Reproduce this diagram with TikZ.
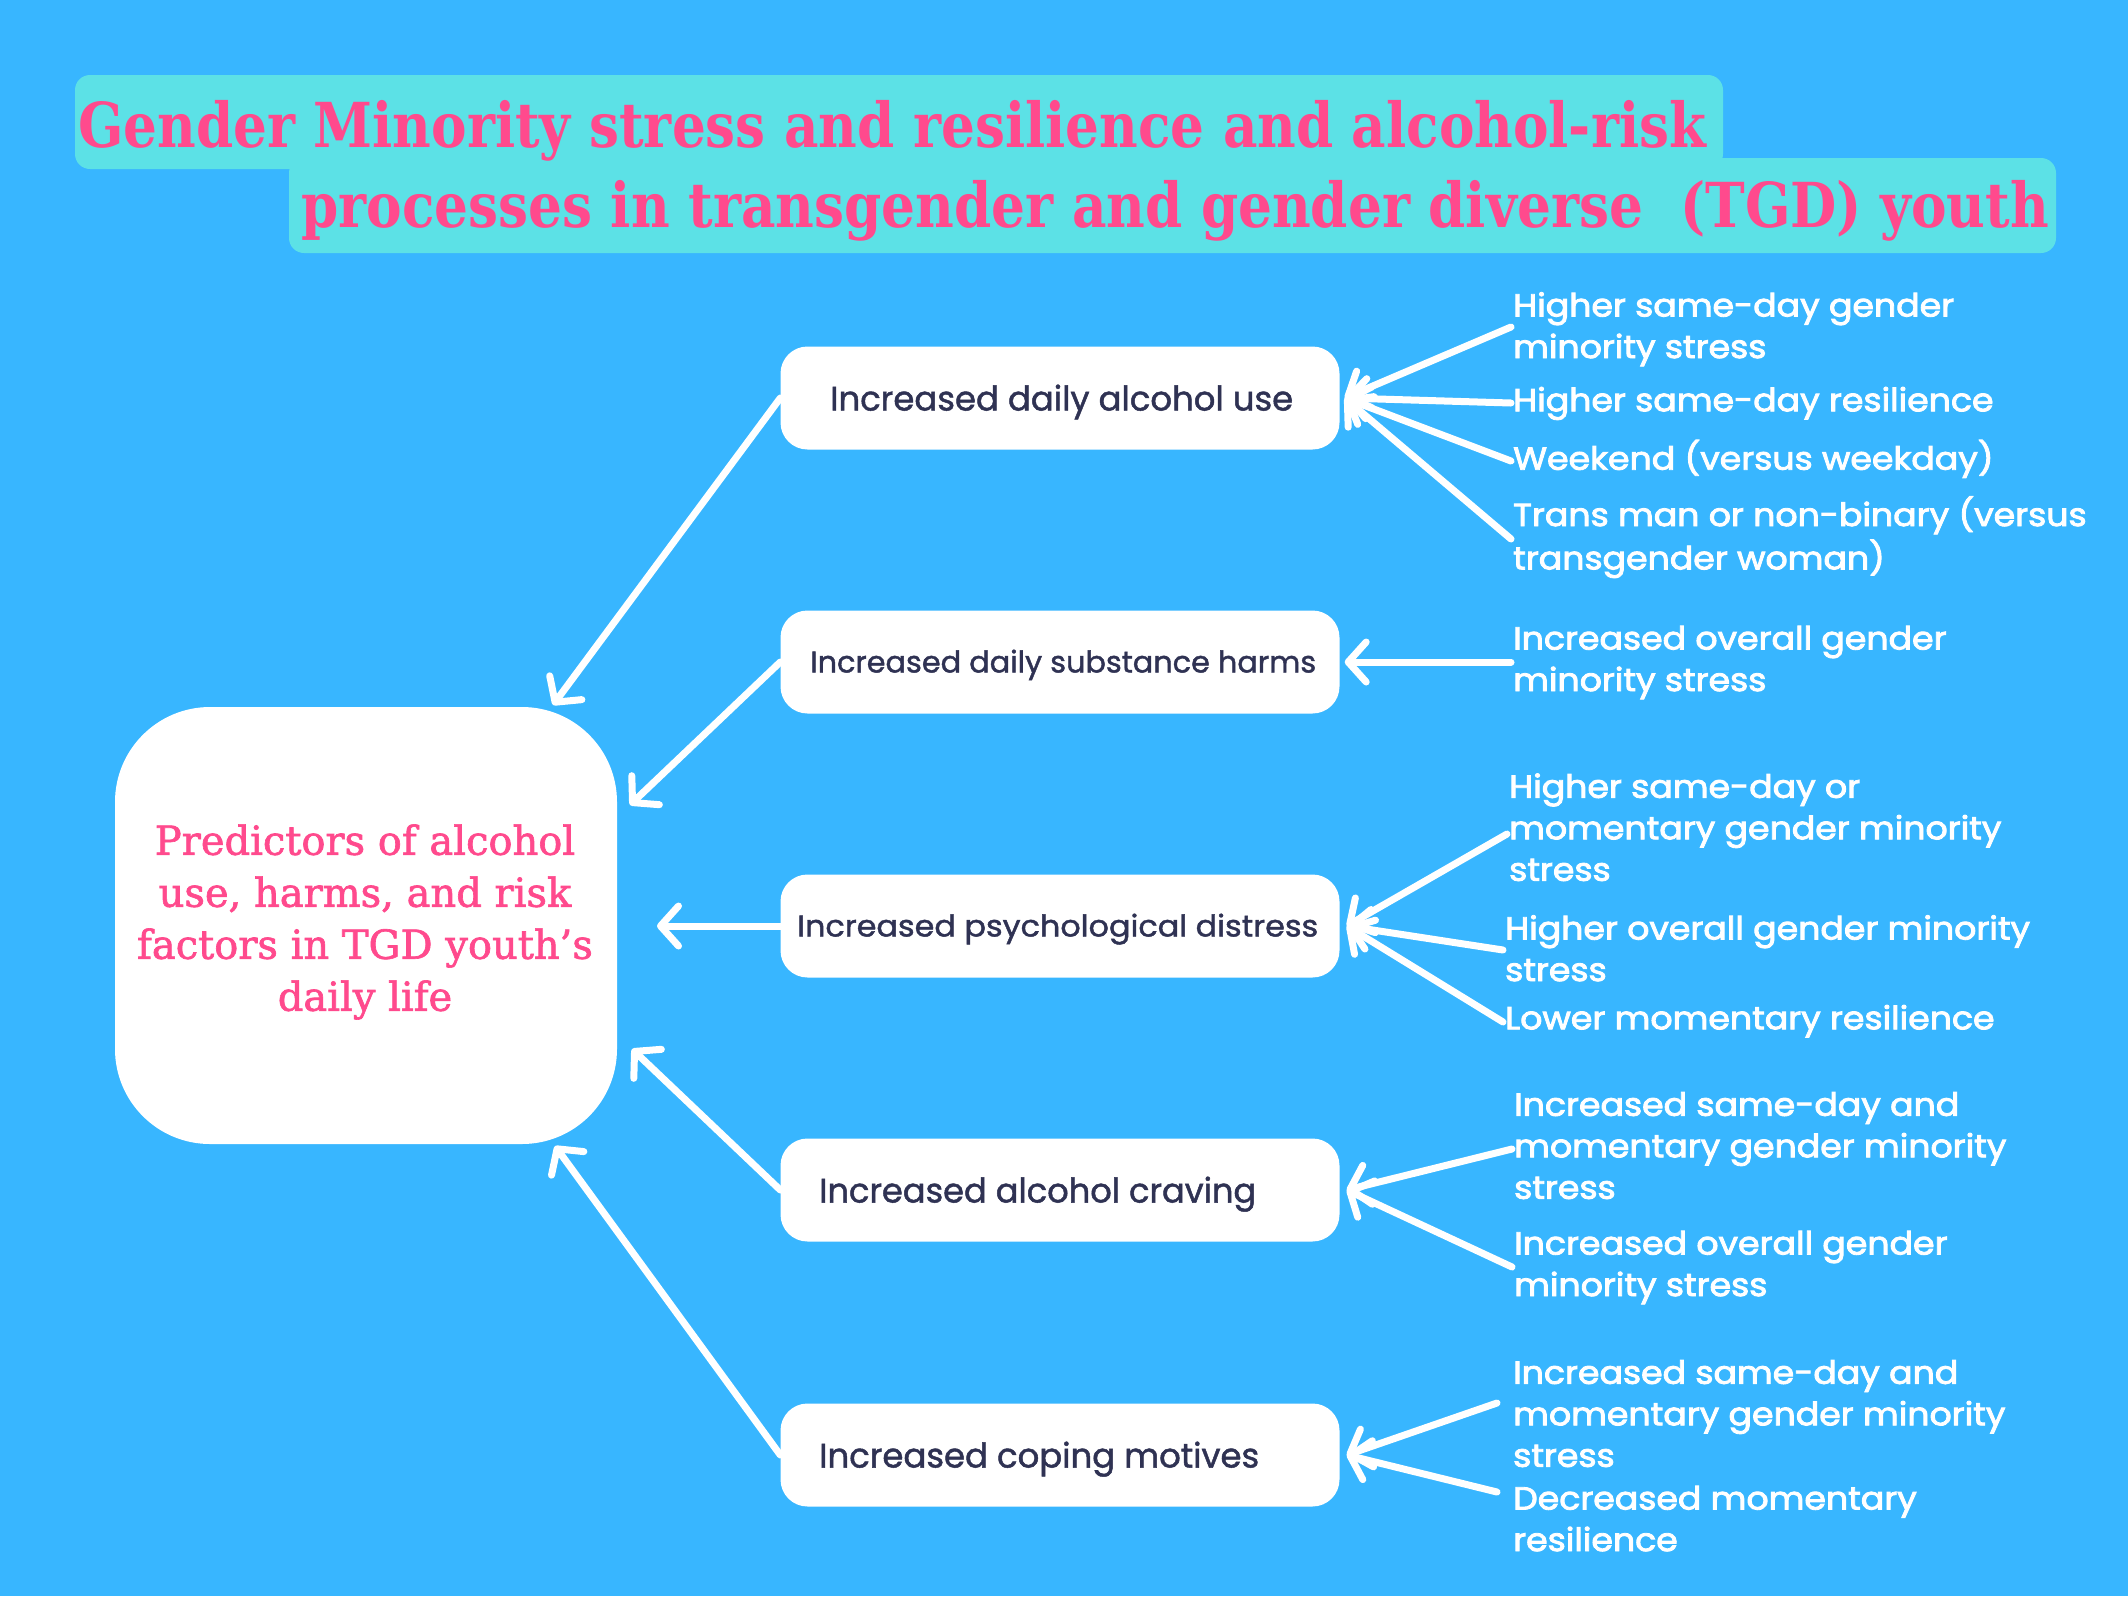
\documentclass[tikz,border=0pt]{standalone}
\usepackage{fontspec}
\usepackage{graphicx}
\setmainfont{Poppins}
\newfontfamily\serifT{DejaVu Serif}
\newfontfamily\serifC{DejaVu Serif}[FakeBold=1.6]
\newfontfamily\popB{Poppins}[FakeBold=1.4]
\newfontfamily\popW{Poppins}[FakeBold=2.6]
\usetikzlibrary{arrows.meta,calc}
\definecolor{bgblue}{HTML}{38B6FF}
\definecolor{tbox}{HTML}{5CE1E6}
\definecolor{pinkT}{HTML}{FF4A8D}
\definecolor{navy}{HTML}{2F3253}
\newcommand{\fitw}[2]{\resizebox{#1}{\height}{#2}}
\newcommand{\rl}[1]{\strut\scalebox{1.085}[1]{#1}}
\tikzset{
  sbox/.style={fill=white, rounded corners=27pt, minimum width=559pt, minimum height=103pt, inner sep=0pt},
  boxtxt/.style={text=navy, anchor=base west, inner sep=0pt},
  bigfont/.style={font=\popB\fontsize{34}{40}\selectfont},
  smallfont/.style={font=\popB\fontsize{30}{36}\selectfont},
  rlab/.style={font=\popW\fontsize{32}{41.5}\selectfont, text=white, align=left, anchor=west, inner sep=0pt},
  arr/.style={draw=white, line width=7pt, line cap=round, -{Straight Barb[length=18pt,width=40pt,round]}},
  titletxt/.style={font=\serifT\bfseries\fontsize{62}{70}\selectfont, text=pinkT, anchor=base west, inner sep=0pt},
  ctrtxt/.style={font=\serifC\fontsize{40}{52}\selectfont, text=pinkT, align=center, inner sep=0pt},
}
\begin{document}
\begin{tikzpicture}[x=1pt,y=-1pt]
\useasboundingbox (0,0) rectangle (2128,1596);
\fill[bgblue] (0,0) rectangle (2128,1596);
% title bands
\fill[tbox, rounded corners=15pt] (75,75) rectangle (1723,169);
\fill[tbox, rounded corners=15pt] (289,158) rectangle (2056,253);
\node[titletxt] (title1) at (78,147) {\fitw{1628pt}{Gender Minority stress and resilience and alcohol-risk}};
\node[titletxt] (title2) at (301,227) {\fitw{1748pt}{processes in transgender and gender diverse\ \ (TGD) youth}};
% centre
\node[fill=white, rounded corners=95pt, minimum width=502pt, minimum height=437pt, inner sep=0pt] (ctr) at (366,925.5) {};
\node[ctrtxt] (ctrt) at (365,922) {Predictors of alcohol\\use, harms, and risk\\factors in TGD youth’s\\daily life};
% outcome boxes
\node[sbox] (b1) at (1060,398) {};
\node[sbox] (b2) at (1060,662) {};
\node[sbox] (b3) at (1060,926) {};
\node[sbox] (b4) at (1060,1190) {};
\node[sbox] (b5) at (1060,1455) {};
\node[boxtxt, bigfont] (t1) at (830,410.5) {\fitw{463pt}{Increased daily alcohol use}};
\node[boxtxt, smallfont] (t2) at (810,672.5) {\fitw{506pt}{Increased daily substance harms}};
\node[boxtxt, smallfont] (t3) at (797,936.5) {\fitw{521pt}{Increased psychological distress}};
\node[boxtxt, bigfont] (t4) at (819,1202.5) {\fitw{437pt}{Increased alcohol craving}};
\node[boxtxt, bigfont] (t5) at (819,1467.5) {\fitw{440pt}{Increased coping motives}};
% predictor labels
\node[rlab] (g1a) at (1513,329) {\rl{Higher same-day gender}\\\rl{minority stress}};
\node[rlab] (g1b) at (1513,403) {\rl{Higher same-day resilience}};
\node[rlab] (g1c) at (1513,461) {\rl{Weekend (versus weekday)}};
\node[rlab] (g1d) at (1513,539) {\rl{Trans man or non-binary (versus}\\\rl{transgender woman)}};
\node[rlab] (g2) at (1513,662) {\rl{Increased overall gender}\\\rl{minority stress}};
\node[rlab] (g3a) at (1509,831) {\rl{Higher same-day or}\\\rl{momentary gender minority}\\\rl{stress}};
\node[rlab] (g3b) at (1505,952) {\rl{Higher overall gender minority}\\\rl{stress}};
\node[rlab] (g3c) at (1505,1021) {\rl{Lower momentary resilience}};
\node[rlab] (g4a) at (1514,1149) {\rl{Increased same-day and}\\\rl{momentary gender minority}\\\rl{stress}};
\node[rlab] (g4b) at (1514,1267) {\rl{Increased overall gender}\\\rl{minority stress}};
\node[rlab] (g5a) at (1513,1417) {\rl{Increased same-day and}\\\rl{momentary gender minority}\\\rl{stress}};
\node[rlab] (g5b) at (1513,1522) {\rl{Decreased momentary}\\\rl{resilience}};
% arrow end points on the centre box
\coordinate (e1) at (553,705);
\coordinate (e2) at (630,805);
\coordinate (e3) at (657,926);
\coordinate (e4) at (632,1049);
\coordinate (e5) at (555,1146);
\draw[arr] (b1.west) -- (e1);
\draw[arr] (b2.west) -- (e2);
\draw[arr] (b3.west) -- (e3);
\draw[arr] (b4.west) -- (e4);
\draw[arr] (b5.west) -- (e5);
% arrows into outcome boxes
\draw[arr] ($(g1a.west)+(-2,-2)$) -- ($(b1.east)+(5,0)$);
\draw[arr] ($(g1b.west)+(-2,0)$) -- ($(b1.east)+(5,0)$);
\draw[arr] ($(g1c.west)+(-2,0)$) -- ($(b1.east)+(5,0)$);
\draw[arr] ($(g1d.west)+(-2,0)$) -- ($(b1.east)+(5,0)$);
\draw[arr] ($(g2.west)+(-2,0)$) -- ($(b2.east)+(5,0)$);
\draw[arr] ($(g3a.west)+(-2,3)$) -- ($(b3.east)+(7,0)$);
\draw[arr] ($(g3b.west)+(-2,-2)$) -- ($(b3.east)+(7,0)$);
\draw[arr] ($(g3c.west)+(-2,1)$) -- ($(b3.east)+(7,0)$);
\draw[arr] ($(g4a.west)+(-2,0)$) -- ($(b4.east)+(7,0)$);
\draw[arr] ($(g4b.west)+(-2,0)$) -- ($(b4.east)+(7,0)$);
\draw[arr] ($(g5a.west)+(-16,-14)$) -- ($(b5.east)+(7,0)$);
\draw[arr] ($(g5b.west)+(-16,-30)$) -- ($(b5.east)+(7,0)$);
\end{tikzpicture}
\end{document}
